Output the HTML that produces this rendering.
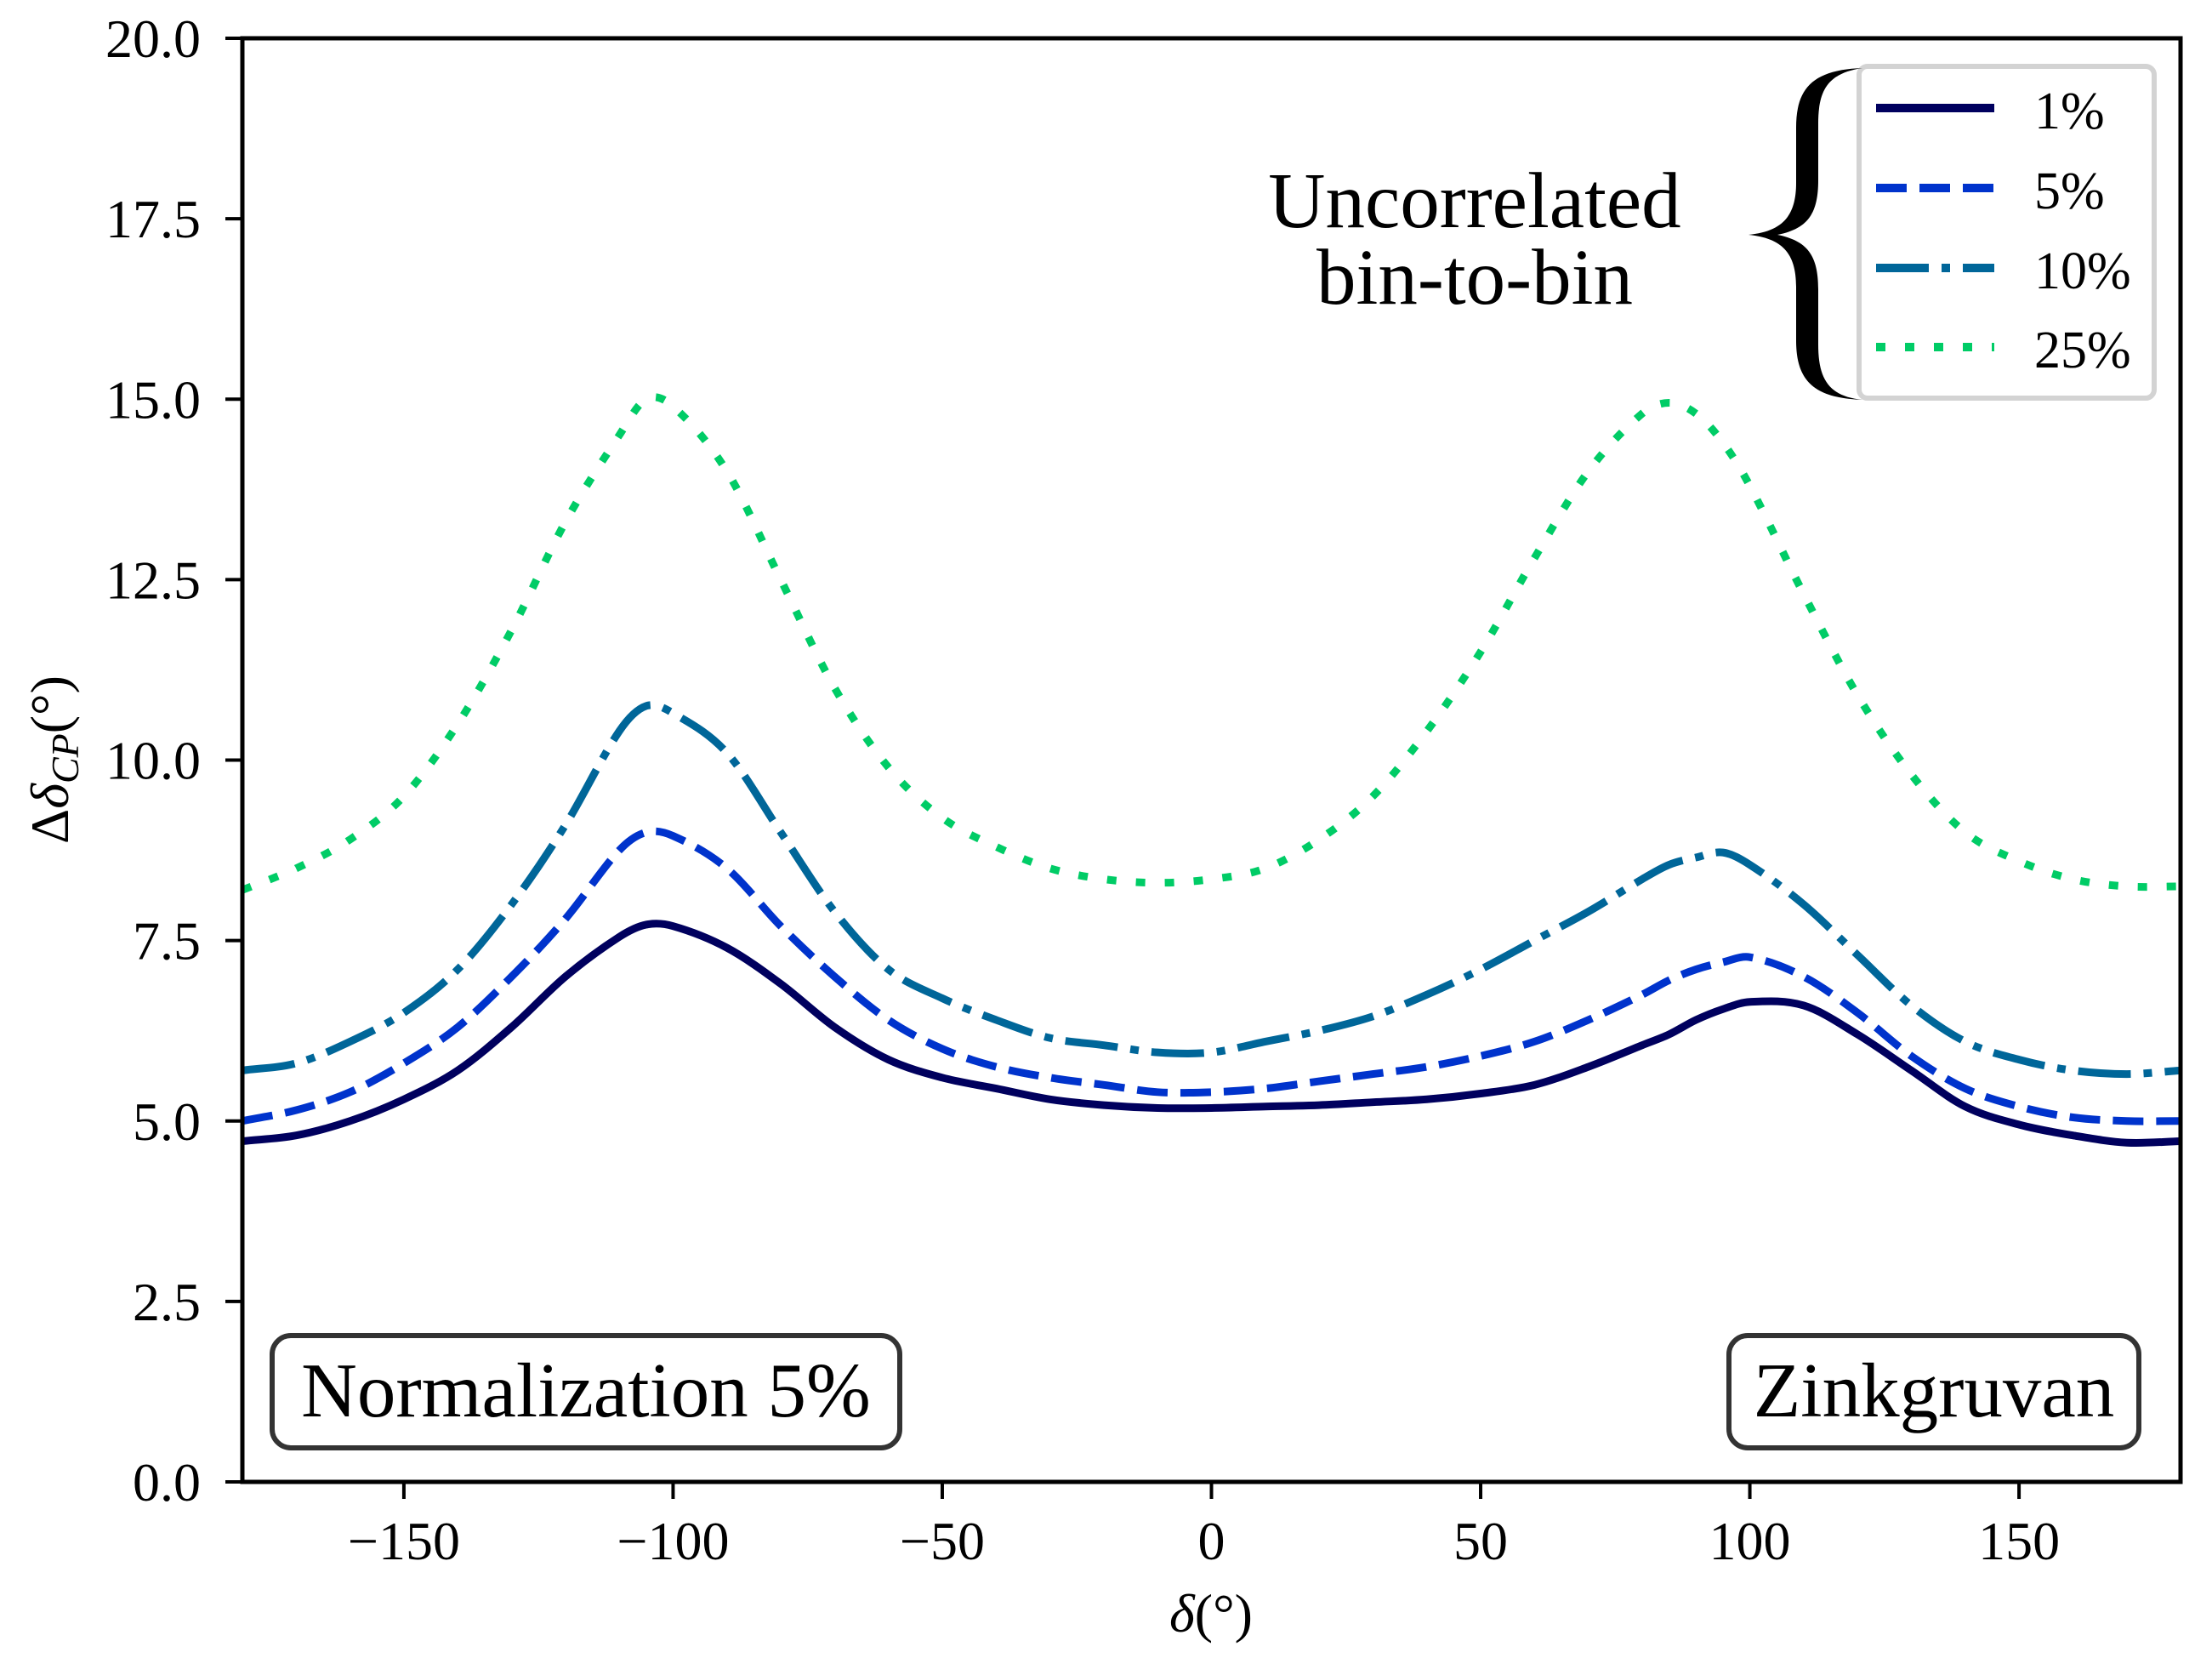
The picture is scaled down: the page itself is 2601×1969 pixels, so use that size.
<!DOCTYPE html>
<html><head><meta charset="utf-8"><style>
body{margin:0;background:#fff}
svg text{font-family:"Liberation Serif",serif;fill:#000}
</style></head><body>
<svg id="chart" width="2601" height="1964" viewBox="0 0 2601 1964" xmlns="http://www.w3.org/2000/svg">
<rect width="2601" height="1964" fill="#fff"/>
<g id="series"></g>
<g id="axes"></g>
<g>
<rect x="320" y="1570" width="738" height="132" rx="22" fill="#fff" stroke="#333" stroke-width="6"/>
<text x="689" y="1665" font-size="91" text-anchor="middle">Normalization 5%</text></g>
<g>
<rect x="2033" y="1570" width="482" height="132" rx="22" fill="#fff" stroke="#333" stroke-width="6"/>
<text x="2274" y="1665" font-size="91" text-anchor="middle">Zinkgruvan</text></g>
<g>
<text x="1734" y="267" font-size="93" text-anchor="middle">Uncorrelated</text>
<text x="1734" y="357" font-size="93" text-anchor="middle">bin-to-bin</text></g>
<g>
<rect x="2186" y="78" width="347" height="390" rx="10" fill="#fff" fill-opacity="0.8" stroke="#d3d3d3" stroke-width="6"/>
<path d="M2190,80 C2130,82 2112,105 2112,150 L2112,215 C2112,255 2095,272 2056,276 C2095,280 2112,297 2112,337 L2112,400 C2112,445 2130,468 2190,470 C2150,466 2138,445 2138,405 L2138,340 C2138,300 2125,283 2090,276 C2125,269 2138,252 2138,212 L2138,145 C2138,105 2150,86 2190,80 Z" fill="#000"/>
<g id="legend-entries"></g>
</g>
<text x="1424" y="1918" font-size="64" text-anchor="middle"><tspan font-style="italic">δ</tspan>(°)</text>
<text transform="translate(80,893) rotate(-90)" font-size="64" text-anchor="middle">Δ<tspan font-style="italic">δ</tspan><tspan font-size="46" dy="12" font-style="italic">CP</tspan><tspan dy="-12">(°)</tspan></text>
</svg>
<script>
const xs=[-180,-170,-160,-150,-140,-130,-120,-110,-105,-100,-90,-80,-70,-60,-50,-40,-30,-20,-10,0,10,20,30,40,50,60,70,80,85,90,95,100,110,120,130,140,150,160,170,180];
const s1=[4.72,4.8,5.0,5.3,5.7,6.3,7.0,7.55,7.72,7.7,7.4,6.9,6.3,5.85,5.6,5.45,5.3,5.22,5.18,5.18,5.2,5.22,5.26,5.3,5.38,5.5,5.75,6.05,6.2,6.4,6.55,6.65,6.6,6.2,5.7,5.2,4.95,4.8,4.7,4.72];
const s5=[5.0,5.15,5.4,5.8,6.3,7.0,7.8,8.75,9.0,8.95,8.5,7.7,7.0,6.4,6.0,5.75,5.6,5.5,5.4,5.4,5.45,5.55,5.65,5.75,5.9,6.1,6.4,6.75,6.95,7.1,7.2,7.27,7.0,6.5,5.9,5.45,5.2,5.05,5.0,5.0];
const s10=[5.7,5.8,6.1,6.5,7.1,8.0,9.1,10.4,10.75,10.65,10.1,9.0,7.9,7.1,6.7,6.4,6.15,6.05,5.95,5.95,6.1,6.25,6.45,6.75,7.1,7.5,7.9,8.35,8.55,8.65,8.72,8.55,8.0,7.3,6.6,6.1,5.85,5.7,5.65,5.7];
const s25=[8.2,8.5,8.9,9.5,10.5,11.8,13.3,14.5,15.0,14.9,14.0,12.5,11.0,9.9,9.2,8.8,8.5,8.35,8.3,8.35,8.5,8.9,9.5,10.4,11.5,12.8,14.0,14.8,14.95,14.8,14.4,13.8,12.3,10.9,9.8,9.0,8.6,8.35,8.25,8.25];
const xTicks=[-150,-100,-50,0,50,100,150];
const yTicks=[0,2.5,5,7.5,10,12.5,15,17.5,20];
const labels=["1%","5%","10%","25%"];
const NS="http://www.w3.org/2000/svg";
const L=285,R=2564,T=45,B=1742;
const X=v=>L+(v+180)/360*(R-L);
const Y=v=>B-v/20*(B-T);
const styles=[
 {c:"#00005e",d:"",name:"series-1pct"},
 {c:"#0033cc",d:"36 15",name:"series-5pct"},
 {c:"#006699",d:"62 15 10 15",name:"series-10pct"},
 {c:"#00cc66",d:"11 23",name:"series-25pct"}];
const data=[s1,s5,s10,s25];
function mk(t,a){const e=document.createElementNS(NS,t);for(const k in a)e.setAttribute(k,a[k]);return e;}
const sg=document.getElementById('series');
const clip=mk('clipPath',{id:'pc'});clip.appendChild(mk('rect',{x:L,y:T,width:R-L,height:B-T}));sg.appendChild(clip);
data.forEach((s,i)=>{
 const p=xs.map((x,j)=>[X(x),Y(s[j])]);
 let d="M"+p[0][0]+","+p[0][1];
 for(let j=0;j<p.length-1;j++){
  const p0=p[Math.max(0,j-1)],p1=p[j],p2=p[j+1],p3=p[Math.min(p.length-1,j+2)];
  const h=p2[0]-p1[0];
  const m1=(p2[1]-p0[1])/(p2[0]-p0[0]||1), m2=(p3[1]-p1[1])/(p3[0]-p1[0]||1);
  d+=` C${p1[0]+h/3},${p1[1]+m1*h/3} ${p2[0]-h/3},${p2[1]-m2*h/3} ${p2[0]},${p2[1]}`;
 }
 const el=mk('path',{d:d,fill:'none',stroke:styles[i].c,'stroke-width':9,'stroke-dasharray':styles[i].d,'clip-path':'url(#pc)'});
 
 
 sg.appendChild(el);
});
const ax=document.getElementById('axes');
const frame=mk('rect',{x:L,y:T,width:R-L,height:B-T,fill:'none',stroke:'#000','stroke-width':5});


ax.appendChild(frame);
xTicks.forEach(v=>{
 ax.appendChild(mk('line',{x1:X(v),x2:X(v),y1:B,y2:B+20,stroke:'#000','stroke-width':4}));
 const t=mk('text',{x:X(v),y:1833,'font-size':64,'text-anchor':'middle'});
 t.textContent=v<0?"−"+(-v):String(v);
 
 
 ax.appendChild(t);
});
yTicks.forEach(v=>{
 ax.appendChild(mk('line',{x1:L-20,x2:L,y1:Y(v),y2:Y(v),stroke:'#000','stroke-width':4}));
 const t=mk('text',{x:236,y:Y(v)+22,'font-size':64,'text-anchor':'end'});
 t.textContent=v.toFixed(1);
 
 
 ax.appendChild(t);
});
const lg=document.getElementById('legend-entries');
const rows=[127,221,315,408];
labels.forEach((lab,i)=>{
 const g=mk('g',{});
 
 
 g.appendChild(mk('line',{x1:2206,x2:2345,y1:rows[i],y2:rows[i],stroke:styles[i].c,'stroke-width':10,'stroke-dasharray':styles[i].d}));
 const t=mk('text',{x:2392,y:rows[i]+24,'font-size':62});
 t.textContent=lab;
 g.appendChild(t);
 lg.appendChild(g);
});
</script>
</body></html>
